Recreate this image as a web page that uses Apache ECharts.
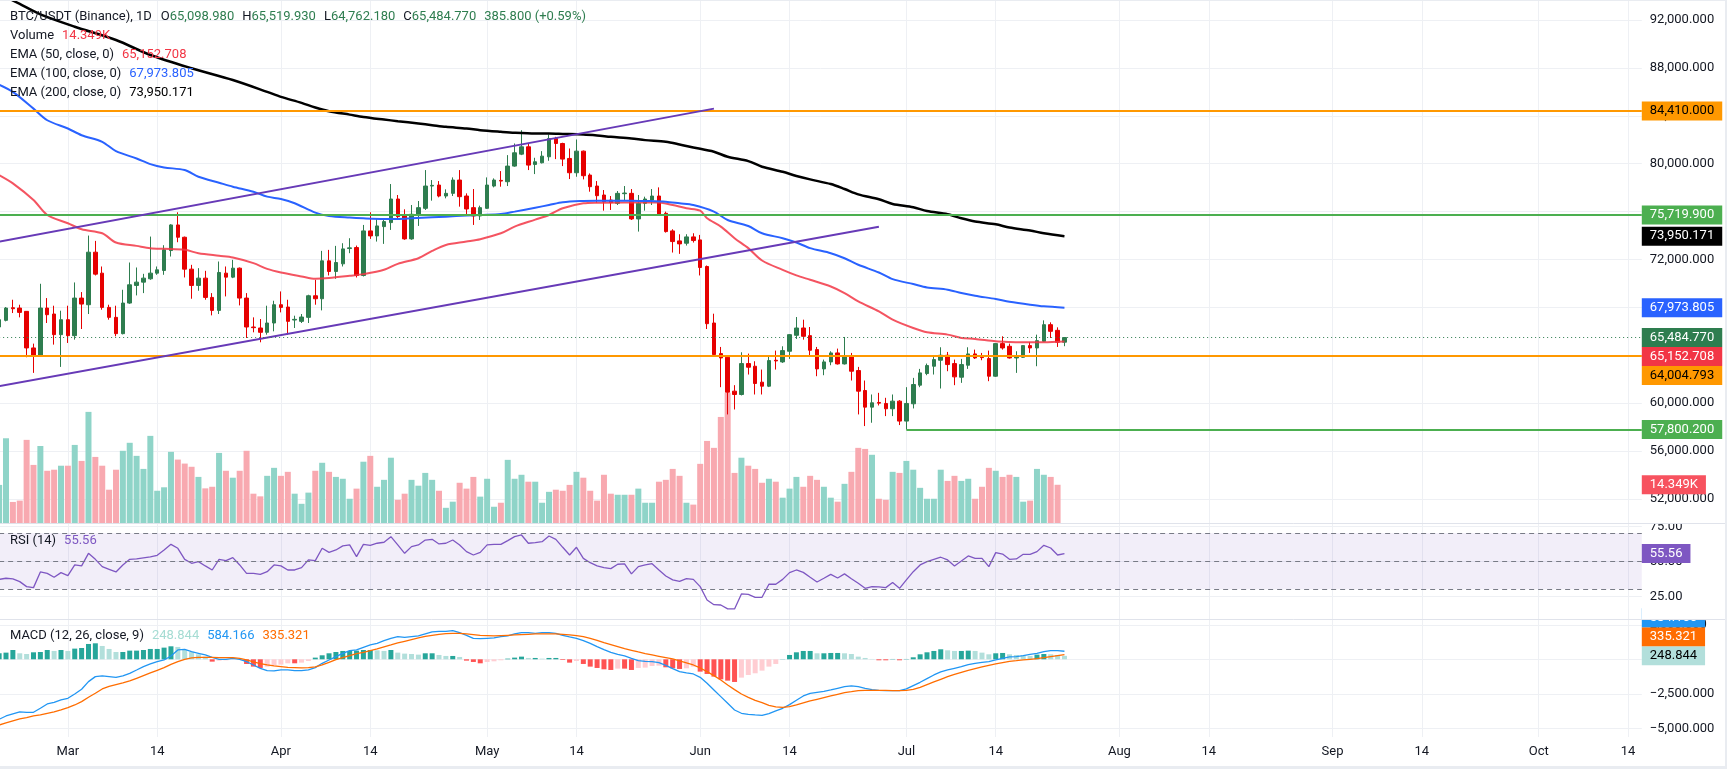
<!DOCTYPE html>
<html>
<head>
<meta charset="utf-8">
<title>BTC/USDT (Binance), 1D</title>
<script src="https://cdn.jsdelivr.net/npm/echarts@6.0.0/dist/echarts.min.js"></script>
<style>
  html, body { margin: 0; padding: 0; background: #e9ecf1; overflow: hidden; }
  #chart { position: absolute; left: 0; top: 1px; width: 1725px; height: 765px; background: #fff; }
</style>
</head>
<body>
<div id="chart"></div>
<script>
// daily bars, first category = Feb 19
var startDate = [2025, 1, 19];
var dayCount = 240;
var monthNames = ['Jan', 'Feb', 'Mar', 'Apr', 'May', 'Jun', 'Jul', 'Aug', 'Sep', 'Oct', 'Nov', 'Dec'];

// candles [open, close, low, high]
var candles = [
  [66366, 66977, 66199, 67809], [66921, 67948, 66838, 68031], [67976, 67893, 67532, 68642], [67948, 67587, 67171, 68226],
  [67671, 64617, 63840, 67700], [64617, 64006, 62535, 64978], [64006, 67948, 63923, 69975], [67948, 67393, 66699, 68781],
  [67449, 65727, 64895, 68143], [65727, 66977, 63035, 67726], [66977, 65644, 65033, 68143], [65644, 68781, 65311, 70086],
  [68781, 68281, 66199, 69281], [68226, 72612, 67449, 74000], [72612, 70780, 70669, 73556], [70863, 68004, 67809, 71418],
  [68004, 67171, 66977, 68226], [67171, 65811, 65589, 68143], [65811, 68365, 65750, 69475], [68365, 69891, 68300, 71751],
  [69836, 70113, 69003, 71335], [70113, 70447, 69197, 70807], [70391, 70863, 70308, 73917], [70863, 71141, 70724, 71418],
  [71085, 72806, 70724, 73195], [72751, 74888, 72251, 74950], [74888, 73861, 73445, 75943], [73861, 71196, 70502, 73917],
  [71196, 69836, 68725, 71557], [69836, 70447, 69392, 71279], [70447, 68837, 68642, 71057], [68837, 67754, 67337, 69197],
  [67754, 70919, 67449, 71835], [70863, 70530, 68920, 71418], [70530, 71279, 70447, 71973], [71279, 68781, 68170, 71335],
  [68781, 66366, 65450, 69197], [66366, 66310, 65922, 67171], [66283, 65922, 65089, 67032], [65922, 66699, 65727, 68143],
  [66699, 68226, 66005, 68559], [68226, 68004, 67587, 69336], [68031, 66838, 65727, 68642], [66949, 67004, 66283, 67310],
  [66838, 67199, 66699, 67449], [67171, 68975, 66699, 69059], [68975, 68725, 68226, 70308], [68725, 71890, 67754, 72723],
  [71890, 71002, 70669, 72806], [71002, 71751, 70391, 73139], [71640, 72889, 71418, 73361], [72917, 72973, 72529, 73778],
  [73000, 70669, 70502, 73167], [70669, 74389, 70585, 74888], [74389, 73972, 73722, 75943], [73972, 74805, 73500, 75360],
  [74749, 75166, 73306, 75360], [75083, 77053, 74472, 78303], [77053, 75582, 75360, 77387], [75638, 73722, 73650, 76193],
  [73722, 75777, 73650, 76554], [75777, 76332, 74805, 76887], [76276, 78136, 76137, 79469], [78136, 78192, 76915, 78636],
  [78219, 77303, 77192, 78553], [77303, 77525, 77109, 77859], [77525, 78636, 77303, 78858], [78636, 77248, 76415, 79469],
  [77303, 76221, 75665, 77525], [76332, 75638, 74888, 77886], [75638, 76332, 75304, 76498], [76276, 78219, 76221, 78858],
  [78136, 78636, 78025, 78775], [78608, 78553, 78081, 79385], [78497, 79802, 78136, 80718], [79802, 80912, 79746, 81689],
  [80801, 81412, 80718, 82800], [81412, 79885, 79469, 81689], [79940, 80163, 79135, 80496], [80079, 80634, 80024, 81051],
  [80579, 82106, 80246, 82439], [82106, 81689, 80385, 82245], [81689, 80385, 79802, 81750], [80440, 79246, 78719, 81273],
  [79246, 81051, 78913, 82023], [81051, 78997, 78691, 81100], [79052, 78081, 77664, 79191], [78136, 77331, 76748, 78553],
  [77387, 76831, 76082, 77803], [76970, 76748, 76137, 77303], [76692, 77525, 76554, 77720], [77498, 77553, 76970, 78136],
  [77525, 75388, 75304, 77886], [75388, 76692, 74333, 77387], [76692, 77053, 76082, 77248], [76970, 77303, 76554, 77886],
  [77303, 75804, 75721, 78025], [75860, 74333, 74250, 75999], [74389, 73500, 72584, 74527], [73556, 73306, 72473, 74111],
  [73361, 73889, 73167, 74111], [73889, 73584, 73417, 74194], [73639, 71335, 70669, 74055], [71418, 66643, 66199, 71500],
  [66699, 64062, 64000, 67477], [64145, 63784, 61341, 64700], [63840, 60925, 59065, 63923], [61008, 60731, 59481, 61508],
  [60731, 63312, 60650, 64256], [63312, 63007, 62396, 64145], [63090, 61647, 60731, 63507], [61758, 61425, 60731, 62813],
  [61425, 63562, 61350, 63923], [63590, 63534, 62813, 64395], [63451, 64395, 63368, 64756], [64340, 65727, 63701, 65780],
  [65672, 66283, 65367, 67199], [66283, 65589, 65311, 66977], [65644, 64423, 63923, 66366], [64478, 62868, 62257, 64700],
  [62868, 63451, 62340, 63645], [63451, 64201, 63174, 64340], [64201, 63285, 63230, 64562], [63285, 63978, 63230, 65533],
  [63978, 62674, 61897, 64201], [62729, 61008, 59065, 63035], [61064, 59675, 58094, 61897], [59675, 60037, 58371, 60731],
  [60065, 60009, 59815, 60869], [59982, 59538, 58926, 60454], [59538, 60176, 58926, 60731], [60176, 58510, 58177, 60259],
  [58510, 59982, 57800.2, 61341], [59954, 61563, 59565, 62118], [61508, 62535, 61341, 62868], [62480, 63146, 62340, 63312],
  [63090, 63645, 62396, 64006], [63590, 64006, 61230, 64673], [64006, 63229, 62674, 64284], [63312, 62202, 61508, 63645],
  [62174, 63229, 61702, 63701], [63174, 64117, 62868, 64673], [64117, 63784, 63701, 64478], [63868, 63812, 63590, 64201],
  [63729, 62257, 61841, 64395], [62257, 64978, 62200, 65030], [64978, 64617, 64478, 65589], [64756, 63784, 63730, 64978],
  [63784, 63923, 62535, 64340], [63840, 64811, 63790, 64860], [64811, 64617, 64201, 65117], [64617, 65228, 63090, 65727],
  [65172, 66560, 65117, 66921], [66560, 66005, 65450, 66755], [66088, 65098.98, 64700, 66338], [65098.98, 65484.77, 64762.18, 65519.93]
];

// volume, thousands
var volumes = [
  14.3, 31.8, 7.9, 8.4, 31.2, 21.8, 28.9, 19.6, 20.0, 21.5,
  21.5, 29.3, 23.3, 41.7, 24.8, 21.5, 12.5, 20.0, 27.1, 30.1,
  25.2, 20.3, 32.7, 12.1, 13.4, 26.7, 23.8, 22.3, 21.1, 17.3,
  13.0, 13.6, 26.3, 19.6, 17.0, 19.6, 27.1, 11.0, 10.0, 17.7,
  20.7, 17.7, 19.2, 11.0, 7.2, 11.4, 19.6, 22.6, 19.2, 17.3,
  16.6, 9.1, 12.9, 23.0, 25.2, 13.6, 16.2, 24.5, 8.7, 11.0,
  16.2, 14.0, 18.8, 16.2, 12.1, 5.7, 8.0, 15.1, 12.9, 17.3,
  9.9, 16.6, 6.1, 7.6, 23.7, 16.6, 18.1, 15.5, 15.5, 7.6,
  11.7, 12.5, 12.1, 14.3, 19.2, 17.0, 12.1, 8.4, 18.1, 11.0,
  10.6, 10.6, 10.6, 12.9, 7.6, 7.6, 15.5, 16.2, 20.3, 17.7,
  7.6, 6.9, 22.2, 30.8, 28.2, 39.8, 48.9, 18.8, 24.5, 21.5,
  20.3, 15.1, 16.6, 15.5, 9.5, 12.9, 17.3, 13.6, 17.7, 16.2,
  13.6, 9.5, 8.0, 14.7, 19.2, 28.2, 27.8, 25.6, 9.1, 8.7,
  19.2, 18.8, 23.3, 20.0, 13.2, 9.1, 9.1, 20.0, 15.8, 17.7,
  15.8, 16.6, 9.1, 13.6, 20.7, 19.6, 17.3, 18.1, 17.3, 8.0,
  8.4, 20.3, 18.1, 17.3, 14.349
];

// EMA lines, read as [bar index, value]
var ema50 = [
  [0, 79050], [2, 78360], [5, 76970], [7, 75720], [10, 75030], [12, 74530], [15, 74190], [17, 73420], [20, 73140],
  [22, 72950], [24, 72890], [27, 72810], [29, 72530], [32, 72310], [34, 72170], [37, 71700], [39, 71220], [41, 70920],
  [44, 70590], [46, 70390], [48, 70450], [51, 70640], [53, 70780], [56, 71140], [58, 71640], [61, 72110], [63, 72720],
  [65, 73220], [68, 73500], [70, 73700], [73, 74190], [75, 74750], [78, 75330], [80, 75720], [82, 76280], [85, 76690],
  [87, 76750], [91, 76770], [96, 76770], [98, 76550], [100, 76280], [102, 76080], [103, 75440], [105, 74750],
  [107, 73780], [109, 72950], [111, 71920], [114, 71140], [116, 70680], [118, 70310], [121, 69750], [123, 69200],
  [125, 68500], [128, 67670], [130, 66980], [133, 66280], [135, 65920], [138, 65730], [140, 65450], [142, 65370],
  [145, 65170], [147, 65120], [150, 65090], [152, 65090], [155, 65152.708]
];
var ema100 = [
  [0, 86600], [2, 86000], [5, 84600], [7, 83630], [10, 82940], [12, 82380], [15, 81830], [17, 81050], [20, 80440],
  [22, 79970], [24, 79690], [27, 79470], [29, 78910], [32, 78410], [34, 78080], [37, 77660], [39, 77250], [41, 77050],
  [43, 76700], [46, 75920], [48, 75640], [51, 75500], [53, 75440], [56, 75390], [58, 75390], [60, 75440], [63, 75530],
  [65, 75580], [68, 75670], [70, 75720], [73, 75800], [75, 76000], [78, 76330], [80, 76550], [82, 76780], [85, 76890],
  [87, 76915], [92, 76915], [94, 76890], [97, 76830], [99, 76690], [101, 76550], [104, 76000], [106, 75300],
  [109, 74800], [111, 74190], [114, 73780], [116, 73420], [118, 72950], [121, 72530], [123, 72110], [125, 71560],
  [128, 70920], [130, 70360], [133, 69950], [135, 69670], [138, 69480], [140, 69200], [142, 68980], [145, 68700],
  [147, 68480], [150, 68230], [152, 68090], [155, 67973.805]
];
var ema200 = [
  [0, 94200], [3, 93340], [6, 92470], [11, 91440], [17, 90330], [22, 89080], [28, 87970], [34, 86990], [39, 86000],
  [41, 85580], [44, 85080], [46, 84690], [48, 84380], [51, 84100], [53, 83910], [56, 83690], [58, 83550], [61, 83360],
  [63, 83220], [65, 83080], [68, 82940], [70, 82800], [73, 82660], [75, 82580], [78, 82520], [80, 82520], [82, 82490],
  [85, 82440], [87, 82360], [89, 82250], [92, 82110], [94, 81970], [97, 81830], [99, 81610], [101, 81360],
  [104, 81000], [106, 80580], [109, 80220], [111, 79750], [114, 79330], [116, 78980], [118, 78690], [121, 78300],
  [123, 77890], [125, 77440], [128, 77030], [130, 76640], [133, 76360], [135, 76050], [138, 75780], [140, 75440],
  [142, 75170], [145, 74940], [147, 74670], [150, 74420], [152, 74190], [155, 73950.171]
];

// RSI (14)
var rsi = [
  37.1, 37.9, 37.4, 35.5, 31.9, 31.2, 42.4, 41.4, 38.6, 41.9, 39.8, 47.4, 46.7, 55.7, 51.4, 46.2, 44.3, 42.4, 47.4, 51.4,
  51.7, 52.4, 53.1, 54.3, 58.1, 62.1, 59.3, 51.4, 48.6, 49.8, 46.7, 43.8, 51.4, 50.5, 52.6, 47.4, 41.4, 41.4, 40.7, 42.6,
  47.4, 46.7, 43.8, 43.8, 45.5, 51.0, 50.5, 59.3, 56.4, 58.1, 61.0, 61.7, 53.3, 62.1, 61.4, 62.9, 63.6, 67.6, 61.7, 55.7,
  60.5, 61.7, 65.2, 65.7, 62.4, 62.9, 65.2, 61.7, 56.9, 54.5, 56.4, 61.7, 62.1, 62.1, 64.8, 67.6, 68.8, 62.9, 63.3,
  64.0, 68.1, 65.7, 60.0, 54.5, 60.0, 52.1, 49.0, 46.7, 45.5, 44.8, 47.9, 48.1, 41.0, 46.2, 47.4, 48.3, 43.8, 39.5,
  36.7, 35.7, 37.6, 37.1, 31.9, 22.4, 19.0, 18.8, 16.0, 16.0, 26.7, 26.4, 24.3, 24.3, 33.6, 33.6, 37.1, 41.9, 43.8,
  42.1, 38.6, 35.2, 37.9, 40.7, 38.1, 41.0, 37.6, 34.3, 30.7, 31.9, 31.7, 31.2, 34.8, 30.7, 36.7, 42.6, 47.4, 49.8,
  51.4, 52.9, 51.0, 46.7, 50.2, 53.8, 52.1, 52.1, 46.2, 56.2, 55.2, 51.4, 51.7, 55.0, 55.0, 56.9, 61.4, 59.5, 54.5, 55.56
];
var rsiBands = [70, 50, 30];

// MACD (12, 26, close, 9)
var macdLine = [
  -4347, -4106, -3961, -3816, -3840, -3840, -3550, -3236, -3115, -2946, -2826, -2512, -2174, -1618, -1256, -1208,
  -1256, -1304, -1208, -1014, -773, -531, -338, -169, -48, 242, 676, 725, 555, 435, 314, 145, 0, 0, 72, 0, -169,
  -411, -652, -821, -845, -773, -773, -821, -821, -773, -604, -290, -48, 193, 435, 628, 676, 869, 1038, 1159, 1352,
  1521, 1642, 1594, 1642, 1690, 1835, 1980, 2029, 2029, 2077, 1932, 1739, 1521, 1497, 1521, 1546, 1642, 1690, 1835,
  1932, 1932, 1884, 1932, 1932, 1884, 1739, 1618, 1521, 1352, 1159, 918, 700, 507, 362, 242, 72, -97, -145, -169,
  -242, -435, -676, -894, -990, -1063, -1304, -1739, -2222, -2705, -3188, -3671, -3912, -3985, -4033, -4057, -3936,
  -3743, -3550, -3284, -2970, -2657, -2463, -2391, -2318, -2222, -2101, -1980, -1932, -1980, -2101, -2198, -2246,
  -2270, -2270, -2270, -2149, -1908, -1666, -1401, -1135, -918, -773, -652, -531, -386, -290, -217, -169, -48, 72,
  169, 193, 266, 362, 435, 555, 628, 628, 584.166
];
var signalLine = [
  -4758, -4613, -4468, -4323, -4226, -4106, -4033, -3912, -3816, -3671, -3502, -3309, -3067, -2753, -2463, -2149,
  -1956, -1835, -1715, -1570, -1377, -1183, -990, -797, -604, -362, -169, 0, 97, 145, 145, 145, 121, 121, 121, 72,
  -48, -193, -314, -411, -483, -531, -580, -604, -628, -604, -555, -411, -217, -24, 121, 266, 411, 507, 628, 749,
  894, 1038, 1183, 1304, 1425, 1546, 1666, 1739, 1811, 1860, 1884, 1884, 1835, 1787, 1739, 1715, 1690, 1715, 1739,
  1763, 1787, 1811, 1835, 1835, 1835, 1835, 1811, 1763, 1715, 1642, 1521, 1377, 1208, 1063, 918, 773, 652, 531,
  411, 314, 217, 121, 24, -121, -266, -411, -628, -894, -1183, -1497, -1860, -2198, -2512, -2753, -2970, -3139,
  -3333, -3453, -3478, -3429, -3309, -3164, -3019, -2898, -2777, -2657, -2536, -2415, -2343, -2270, -2246, -2246,
  -2246, -2246, -2270, -2270, -2246, -2174, -2029, -1835, -1642, -1449, -1256, -1087, -942, -797, -676, -555, -435,
  -338, -242, -145, -97, -48, 0, 48, 121, 193, 266, 335.321
];
var macdHist = [
  435, 483, 676, 435, 386, 507, 531, 676, 604, 676, 604, 773, 821, 1111, 1159, 966, 749, 531, 531, 628,
  628, 676, 749, 749, 845, 942, 894, 676, 531, 362, 193, -169, -97, -72, -24, -10, -338, -531, -628, -531,
  -435, -386, -290, -290, -242, -121, 121, 290, 435, 531, 604, 604, 628, 676, 676, 652, 604, 676, 483, 411,
  386, 338, 435, 435, 314, 242, 242, 169, -97, -193, -290, -193, -145, -72, 48, 121, 193, 97, 97,
  48, 97, 97, -48, -242, -121, -338, -531, -628, -725, -773, -676, -676, -773, -628, -604, -483, -459, -580,
  -652, -700, -652, -531, -894, -1063, -1256, -1449, -1546, -1642, -1328, -1135, -1014, -821, -531, -338, 15,
  314, 507, 604, 604, 435, 435, 459, 459, 435, 386, 193, 97, 24, -72, -72, 24, -72, 24, 145, 362, 507, 604,
  725, 652, 604, 604, 628, 604, 483, 362, 435, 459, 362, 314, 290, 242, 338, 386, 362, 314, 248.844
];

// drawn levels and channel
var levels = [84410, 75719.9, 64004.793];
var supportRay = [132, 57800.2];
var channelUpper = [[0, 73490], [104, 84600]];
var channelLower = [[0, 61420], [128, 74740]];
var lastClose = 65484.77;

// axis ticks
var priceTicks = [52000, 56000, 60000, 64000, 68000, 72000, 76000, 80000, 84000, 88000, 92000];
var rsiTicks = [25, 50, 75];
var macdTicks = [-5000, -2500, 0, 2500];

var upColor = '#2e7d4f';
var downColor = '#e60000';
var textColor = '#131722';
var gridColor = '#eef0f4';
var fontFamily = 'Roboto';

var categories = [];
for (var i = 0; i < dayCount; i++) {
  var d = new Date(Date.UTC(startDate[0], startDate[1], startDate[2] + i));
  categories.push(d.toISOString().slice(0, 10));
}

function isLabelDay(index, value) {
  var day = +value.slice(8, 10);
  return day === 1 || day === 14;
}
function dayLabel(value) {
  var day = +value.slice(8, 10);
  return day === 1 ? monthNames[+value.slice(5, 7) - 1] : String(day);
}
function fmt3(v) {
  var s = Math.abs(v).toLocaleString('en-US', {minimumFractionDigits: 3, maximumFractionDigits: 3});
  return (v < 0 ? '\u2212' : '') + s;
}

function xAxisFor(g, showLabel) {
  return {
    type: 'category', gridIndex: g, data: categories, boundaryGap: false,
    axisLine: {show: false}, axisTick: {show: false},
    axisLabel: {show: showLabel, interval: isLabelDay, formatter: dayLabel, color: textColor,
      fontSize: 13, fontFamily: fontFamily, margin: 8},
    splitLine: {show: true, interval: isLabelDay, lineStyle: {color: gridColor, width: 1}}
  };
}
function yAxisFor(g, min, max, ticks, formatter) {
  return {
    type: 'value', gridIndex: g, position: 'right', min: min, max: max,
    axisLine: {show: false},
    axisTick: {show: false, customValues: ticks},
    axisLabel: {customValues: ticks, formatter: formatter, color: textColor, fontSize: 13,
      fontFamily: fontFamily, margin: 8},
    splitLine: {show: true, lineStyle: {color: gridColor, width: 1}}
  };
}

var gridLeft = -0.87;
var gridRight = 83.2;

var option = {
  animation: false,
  backgroundColor: '#ffffff',
  grid: [
    {left: gridLeft, right: gridRight, top: 0, height: 522, outerBoundsMode: 'none'},
    {left: gridLeft, right: gridRight, top: 522, height: 96, outerBoundsMode: 'none'},
    {left: gridLeft, right: gridRight, top: 618, height: 118, outerBoundsMode: 'none'}
  ],
  xAxis: [xAxisFor(0, false), xAxisFor(1, false), xAxisFor(2, true)],
  yAxis: [
    yAxisFor(0, 50000, 93587, priceTicks, fmt3),
    {type: 'value', gridIndex: 0, min: 0, max: 195.9, show: false, splitLine: {show: false}},
    yAxisFor(1, 8.79, 77.36, rsiTicks, function (v) { return v.toFixed(2); }),
    yAxisFor(2, -5630, 2920, macdTicks, fmt3)
  ],
  series: [
    {
      name: 'Volume', type: 'bar', xAxisIndex: 0, yAxisIndex: 1, data: volumes, barWidth: 6, z: 1,
      itemStyle: {
        color: function (p) {
          var c = candles[p.dataIndex];
          return c[1] >= c[0] ? '#8fd4c8' : '#f8a9b0';
        }
      }
    },
    {
      name: 'BTC/USDT', type: 'candlestick', xAxisIndex: 0, yAxisIndex: 0, data: candles, barWidth: 4, z: 3,
      itemStyle: {color: upColor, color0: downColor, borderColor: upColor, borderColor0: downColor, borderWidth: 1}
    },
    {
      name: 'EMA 50', type: 'line', xAxisIndex: 0, yAxisIndex: 0, data: ema50, showSymbol: false, smooth: 0.3, z: 4,
      lineStyle: {color: 'rgba(242,54,69,0.85)', width: 2}
    },
    {
      name: 'EMA 100', type: 'line', xAxisIndex: 0, yAxisIndex: 0, data: ema100, showSymbol: false, smooth: 0.3, z: 4,
      lineStyle: {color: '#2962ff', width: 2}
    },
    {
      name: 'EMA 200', type: 'line', xAxisIndex: 0, yAxisIndex: 0, data: ema200, showSymbol: false, smooth: 0.3, z: 4,
      lineStyle: {color: '#000000', width: 2.5},
      markLine: {
        silent: true, symbol: ['none', 'none'], label: {show: false}, animation: false,
        data: [
          {yAxis: levels[0], lineStyle: {color: '#ff9800', width: 2, type: 'solid'}},
          {yAxis: levels[1], lineStyle: {color: '#4caf50', width: 2, type: 'solid'}},
          {yAxis: levels[2], lineStyle: {color: '#ff9800', width: 2, type: 'solid'}},
          [{coord: [supportRay[0], supportRay[1]], lineStyle: {color: '#4caf50', width: 2, type: 'solid'}},
            {coord: [dayCount - 1, supportRay[1]]}],
          [{coord: channelUpper[0], lineStyle: {color: '#673ab7', width: 2, type: 'solid'}}, {coord: channelUpper[1]}],
          [{coord: channelLower[0], lineStyle: {color: '#673ab7', width: 2, type: 'solid'}}, {coord: channelLower[1]}],
          {yAxis: lastClose, lineStyle: {color: upColor, width: 1, type: [1, 3]}}
        ]
      }
    },
    {
      name: 'RSI', type: 'line', xAxisIndex: 1, yAxisIndex: 2, data: rsi, showSymbol: false,
      lineStyle: {color: '#7e57c2', width: 1.3},
      markArea: {silent: true, itemStyle: {color: 'rgba(126,87,194,0.1)'},
        data: [[{yAxis: rsiBands[2]}, {yAxis: rsiBands[0]}]]},
      markLine: {
        silent: true, symbol: ['none', 'none'], label: {show: false}, animation: false,
        lineStyle: {color: '#787b86', width: 1, type: [5, 4]},
        data: [{yAxis: rsiBands[0]}, {yAxis: rsiBands[1]}, {yAxis: rsiBands[2]}]
      }
    },
    {
      name: 'Histogram', type: 'bar', xAxisIndex: 2, yAxisIndex: 3, data: macdHist, barWidth: 5,
      itemStyle: {
        color: function (p) {
          var v = macdHist[p.dataIndex];
          var prev = p.dataIndex > 0 ? macdHist[p.dataIndex - 1] : v;
          if (v >= 0) return v >= prev ? '#26a69a' : '#b2dfdb';
          return v <= prev ? '#ff5252' : '#ffcdd2';
        }
      }
    },
    {
      name: 'MACD', type: 'line', xAxisIndex: 2, yAxisIndex: 3, data: macdLine, showSymbol: false, z: 4,
      lineStyle: {color: '#2196f3', width: 1.3}
    },
    {
      name: 'Signal', type: 'line', xAxisIndex: 2, yAxisIndex: 3, data: signalLine, showSymbol: false, z: 4,
      lineStyle: {color: '#ff6d00', width: 1.3}
    }
  ]
};

var chart = echarts.init(document.getElementById('chart'));
chart.setOption(option);

// legend lines top-left of each pane
function legendLine(y, parts) {
  var text = '';
  var rich = {};
  parts.forEach(function (p, k) {
    text += '{t' + k + '|' + p[0] + '}';
    rich['t' + k] = {fill: p[1], fontSize: 13, fontFamily: fontFamily, padding: [0, 0, 0, p[2] || 0]};
  });
  return {type: 'text', silent: true, z: 50, x: 10, y: y,
    style: {text: text, rich: rich, verticalAlign: 'middle', fontSize: 13, fontFamily: fontFamily}};
}

// price tags on the right scale
function tagItems(list, axisIndex, pushDown) {
  var h = 19;
  list.forEach(function (t) { t.y = chart.convertToPixel({yAxisIndex: axisIndex}, t.value); });
  var out = [];
  if (pushDown) {
    list.sort(function (a, b) { return a.y - b.y; });
    var prevBottom = -Infinity;
    list.forEach(function (t) {
      var top = Math.max(t.y - h / 2, prevBottom);
      t.cy = top + h / 2;
      prevBottom = top + h;
    });
  } else {
    list.sort(function (a, b) { return b.y - a.y; });
    var prevTop = Infinity;
    list.forEach(function (t) {
      var bottom = Math.min(t.y + h / 2, prevTop);
      t.cy = bottom - h / 2;
      prevTop = bottom - h;
    });
  }
  list.forEach(function (t) {
    out.push({type: 'text', silent: true, z: 100, x: rightEdge, y: t.cy,
      style: {text: t.text, fill: t.fg, backgroundColor: t.bg, padding: [3, 8, 3, 8], fontSize: 13,
        fontFamily: fontFamily, lineHeight: 13, verticalAlign: 'middle', align: 'left'}});
  });
  return out;
}

var rightEdge = chart.convertToPixel({xAxisIndex: 0}, categories[dayCount - 1]);
var width = chart.getWidth();

var mainTags = [
  {value: levels[0], text: fmt3(levels[0]), bg: '#ff9800', fg: '#000000'},
  {value: levels[1], text: fmt3(levels[1]), bg: '#4caf50', fg: '#ffffff'},
  {value: 73950.171, text: fmt3(73950.171), bg: '#000000', fg: '#ffffff'},
  {value: 67973.805, text: fmt3(67973.805), bg: '#2962ff', fg: '#ffffff'},
  {value: lastClose, text: fmt3(lastClose), bg: upColor, fg: '#ffffff'},
  {value: 65152.708, text: fmt3(65152.708), bg: '#f23645', fg: '#ffffff'},
  {value: levels[2], text: fmt3(levels[2]), bg: '#ff9800', fg: '#000000'},
  {value: supportRay[1], text: fmt3(supportRay[1]), bg: '#4caf50', fg: '#ffffff'}
];
var volTags = [{value: 14.349, text: '14.349K', bg: '#f7525f', fg: '#ffffff'}];
var rsiTags = [{value: 55.56, text: '55.56', bg: '#7e57c2', fg: '#ffffff'}];
var macdTags = [
  {value: 584.166, text: '584.166', bg: '#2196f3', fg: '#ffffff'},
  {value: 335.321, text: '335.321', bg: '#ff6d00', fg: '#ffffff'},
  {value: 248.844, text: '248.844', bg: '#b2dfdb', fg: '#000000'}
];

var graphics = [];
graphics.push(legendLine(16, [
  ['BTC/USDT (Binance), 1D', textColor], ['O', textColor, 9], ['65,098.980', upColor],
  ['H', textColor, 8], ['65,519.930', upColor], ['L', textColor, 8], ['64,762.180', upColor],
  ['C', textColor, 8], ['65,484.770', upColor], ['385.800 (+0.59%)', upColor, 8]
]));
graphics.push(legendLine(35, [['Volume', textColor], ['14.349K', '#f23645', 8]]));
graphics.push(legendLine(54, [['EMA (50, close, 0)', textColor], ['65,152.708', '#f23645', 8]]));
graphics.push(legendLine(73, [['EMA (100, close, 0)', textColor], ['67,973.805', '#2962ff', 8]]));
graphics.push(legendLine(92, [['EMA (200, close, 0)', textColor], ['73,950.171', '#000000', 8]]));
graphics.push(legendLine(540, [['RSI (14)', textColor], ['55.56', '#7e57c2', 8]]));
graphics.push(legendLine(635, [['MACD (12, 26, close, 9)', textColor], ['248.844', '#a5dcd3', 8],
  ['584.166', '#2196f3', 8], ['335.321', '#ff6d00', 8]]));

graphics = graphics.concat(tagItems(mainTags, 0, true), tagItems(volTags, 1, true),
  tagItems(rsiTags, 2, true), tagItems(macdTags, 3, false));

// pane tops cut whatever spills over the scale
graphics.push({type: 'rect', silent: true, z: 101, shape: {x: rightEdge, y: 512, width: width - rightEdge, height: 10.5},
  style: {fill: '#ffffff'}});
graphics.push({type: 'rect', silent: true, z: 101, shape: {x: rightEdge, y: 604, width: width - rightEdge, height: 14.5},
  style: {fill: '#ffffff'}});
// pane separators
[522.5, 618.5].forEach(function (y) {
  graphics.push({type: 'line', silent: true, z: 102, shape: {x1: 0, y1: y, x2: width, y2: y},
    style: {stroke: '#e0e3eb', lineWidth: 1}});
});

chart.setOption({graphic: graphics});
</script>
</body>
</html>
